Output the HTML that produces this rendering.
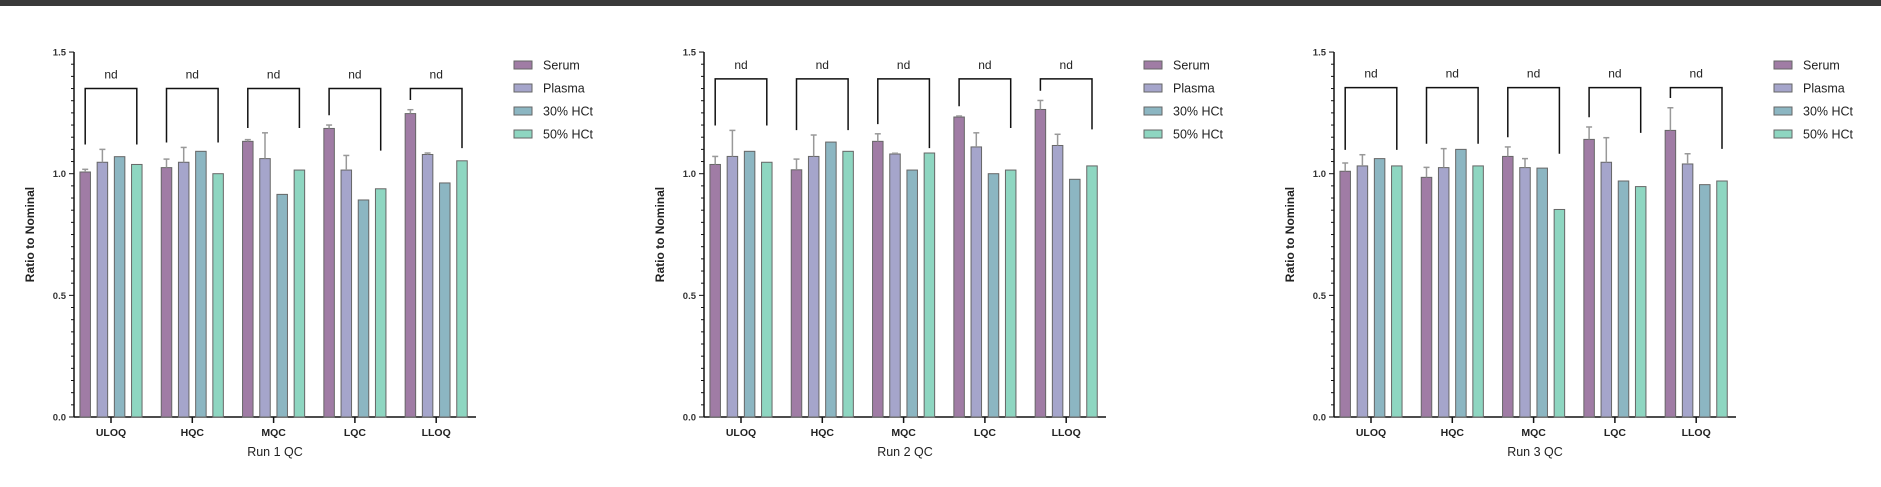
<!DOCTYPE html>
<html><head><meta charset="utf-8"><style>
html,body{margin:0;padding:0;background:#fff;}
svg{display:block;font-family:"Liberation Sans",Arial,sans-serif;}
</style></head>
<body>
<svg id="fig" width="1881" height="487" viewBox="0 0 1881 487" xmlns="http://www.w3.org/2000/svg">
<rect x="0" y="0" width="1881" height="6" fill="#3a3a3a"/>
</svg>
<script>
const categories = ["ULOQ","HQC","MQC","LQC","LLOQ"];
const seriesNames = ["Serum","Plasma","30% HCt","50% HCt"];
const yTickLabels = ["0.0","0.5","1.0","1.5"];
const yTickValues = [0,0.5,1.0,1.5];
const runTitles = ["Run 1 QC","Run 2 QC","Run 3 QC"];
const bracketLevels = [1.35,1.39,1.354];
// run 1
const run1Serum = [1.007,1.025,1.133,1.186,1.247];
const run1SerumErr = [0.011,0.035,0.007,0.014,0.016];
const run1Plasma = [1.047,1.047,1.062,1.015,1.079];
const run1PlasmaErr = [0.053,0.061,0.106,0.060,0.006];
const run1Hct30 = [1.070,1.092,0.915,0.892,0.962];
const run1Hct50 = [1.038,1.000,1.015,0.938,1.053];
// run 2
const run2Serum = [1.038,1.016,1.133,1.233,1.264];
const run2SerumErr = [0.033,0.044,0.031,0.004,0.037];
const run2Plasma = [1.071,1.071,1.081,1.110,1.116];
const run2PlasmaErr = [0.107,0.088,0.003,0.058,0.046];
const run2Hct30 = [1.092,1.130,1.015,1.000,0.977];
const run2Hct50 = [1.047,1.092,1.085,1.015,1.032];
// run 3
const run3Serum = [1.010,0.985,1.071,1.141,1.178];
const run3SerumErr = [0.034,0.041,0.039,0.051,0.093];
const run3Plasma = [1.032,1.025,1.025,1.047,1.040];
const run3PlasmaErr = [0.046,0.078,0.037,0.101,0.042];
const run3Hct30 = [1.062,1.100,1.023,0.970,0.955];
const run3Hct50 = [1.032,1.032,0.853,0.947,0.970];
const annotation = "nd";

const runs = [
  {s:run1Serum,se:run1SerumErr,p:run1Plasma,pe:run1PlasmaErr,h3:run1Hct30,h5:run1Hct50},
  {s:run2Serum,se:run2SerumErr,p:run2Plasma,pe:run2PlasmaErr,h3:run2Hct30,h5:run2Hct50},
  {s:run3Serum,se:run3SerumErr,p:run3Plasma,pe:run3PlasmaErr,h3:run3Hct30,h5:run3Hct50}
];
const colors = ["#a07ca5","#a5a5cb","#8cb6c2","#8ed6c1"];
const origins = [74,704,1334];
const svg = document.getElementById('fig');
const NS = "http://www.w3.org/2000/svg";
function mk(tag, attrs, parent){const e=document.createElementNS(NS,tag);for(const k in attrs)e.setAttribute(k,attrs[k]);(parent||svg).appendChild(e);return e;}
const y0 = 417, pxPerUnit = 243.3, axisLen = 402, groupStep = 81.3, barW = 10.5, barPitch = 17.2;
function yScale(v){return y0 - v*pxPerUnit;}

runs.forEach((run, r) => {
  const ox = origins[r];
  const g = mk('g', {});
  
  
  function xCenter(i){return ox + 37 + i*groupStep;}
  const ya = mk('line', {x1:ox, y1:yScale(1.5), x2:ox, y2:y0, stroke:'#111', 'stroke-width':1.5}, g);
  
  
  for (let k=0; k<=30; k++){
    const v = k*0.05, major = (k%10===0);
    const t = mk('line', {x1:ox-(major?5:3), y1:yScale(v), x2:ox, y2:yScale(v), stroke:'#111', 'stroke-width':1}, g);
    
    
  }
  yTickValues.forEach((v,k)=>{
    const t = mk('text', {x:ox-8, y:yScale(v)+3.5, 'text-anchor':'end', 'font-size':9.5, 'font-weight':'bold', fill:'#333'}, g);
    t.textContent = yTickLabels[k];
    
    
  });
  const yt = mk('text', {x:0, y:0, transform:`translate(${ox-40},${yScale(0.75)}) rotate(-90)`, 'text-anchor':'middle', 'font-size':12, 'font-weight':'bold', fill:'#222'}, g);
  yt.textContent = 'Ratio to Nominal';
  
  
  const xa = mk('line', {x1:ox, y1:y0, x2:ox+axisLen, y2:y0, stroke:'#111', 'stroke-width':1.5}, g);
  
  
  const topV = bracketLevels[r];
  categories.forEach((c,i)=>{
    const cx = xCenter(i);
    const t = mk('line', {x1:cx, y1:y0, x2:cx, y2:y0+6, stroke:'#111', 'stroke-width':1.5}, g);
    
    
    const l = mk('text', {x:cx, y:y0+19, 'text-anchor':'middle', 'font-size':10.5, 'font-weight':'bold', fill:'#222'}, g);
    l.textContent = c;
    
    
    const vals = [run.s[i], run.p[i], run.h3[i], run.h5[i]];
    const errs = [run.se[i], run.pe[i], 0, 0];
    vals.forEach((v,s)=>{
      const bx = cx + (s-1.5)*barPitch;
      const b = mk('rect', {x:bx-barW/2, y:yScale(v), width:barW, height:y0-yScale(v), fill:colors[s], stroke:'#666', 'stroke-width':1}, g);
      
      
      if (errs[s] > 0){
        const e1 = mk('line', {x1:bx, y1:yScale(v), x2:bx, y2:yScale(v+errs[s]), stroke:'#999', 'stroke-width':1.5}, g);
        
        
        const e2 = mk('line', {x1:bx-3, y1:yScale(v+errs[s]), x2:bx+3, y2:yScale(v+errs[s]), stroke:'#999', 'stroke-width':1.5}, g);
        
        
      }
    });
    const rightEnd = Math.min(Math.max(run.h3[i], run.h5[i], run.p[i]+run.pe[i]) + 0.02, topV-0.05);
    const leftEnd = Math.min(Math.max(run.s[i]+run.se[i]+0.04, rightEnd), topV-0.03);
    const lx = cx - 1.5*barPitch, rx = cx + 1.5*barPitch;
    const br = mk('polyline', {points:`${lx},${yScale(leftEnd)} ${lx},${yScale(topV)} ${rx},${yScale(topV)} ${rx},${yScale(rightEnd)}`, fill:'none', stroke:'#111', 'stroke-width':1.5}, g);
    
    
    const nd = mk('text', {x:cx, y:yScale(topV)-10, 'text-anchor':'middle', 'font-size':12, fill:'#222'}, g);
    nd.textContent = annotation;
    
    
  });
  const xt = mk('text', {x:ox+axisLen/2, y:y0+39, 'text-anchor':'middle', 'font-size':12.5, fill:'#222'}, g);
  xt.textContent = runTitles[r];
  
  
  seriesNames.forEach((n,s)=>{
    const ly = 65 + s*23;
    const sw = mk('rect', {x:ox+440, y:ly-4, width:18, height:8, fill:colors[s], stroke:'#666', 'stroke-width':1}, g);
    
    
    const lt = mk('text', {x:ox+469, y:ly+4.5, 'font-size':12.5, fill:'#222'}, g);
    lt.textContent = n;
    
    
  });
});
</script>
</body></html>
